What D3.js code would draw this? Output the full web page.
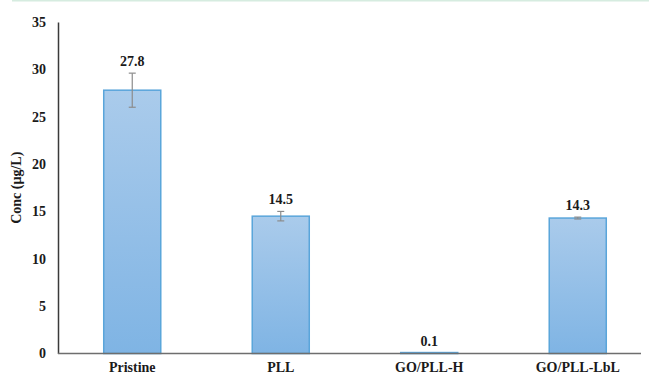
<!DOCTYPE html>
<html>
<head>
<meta charset="utf-8">
<script src="https://cdn.jsdelivr.net/npm/d3@7"></script>
<style>
  html, body { margin: 0; padding: 0; background: #fff; }
  svg { display: block; }
  svg text { font-family: 'Liberation Serif', 'DejaVu Serif', 'Times New Roman', serif; font-weight: bold; fill: #1a1a1a; }
</style>
</head>
<body>
<svg id="chart" width="649" height="377"></svg>
<script>
// Measured concentrations per sample
const categories = ["Pristine", "PLL", "GO/PLL-H", "GO/PLL-LbL"];
const values = [27.8, 14.5, 0.1, 14.3];
const errors = [1.8, 0.5, 0.0, 0.1];
const yTicks = [0, 5, 10, 15, 20, 25, 30, 35];
const yTitle = "Conc (µg/L)";

const FONT = "'Liberation Serif', 'DejaVu Serif', 'Times New Roman', serif";

const svg = d3.select("#chart");
const W = 649, H = 377;
const margin = { left: 58, top: 22, bottom: 23.5 };
const plotBottom = H - margin.bottom;

// thin header rule along the top edge
svg.append("line")
  .attr("x1", 12).attr("x2", W).attr("y1", 0.75).attr("y2", 0.75)
  .attr("stroke", "#d6ece0").attr("stroke-width", 1.5);

const x = d3.scaleBand()
  .domain(categories)
  .range([margin.left, margin.left + 4 * 148.5])
  .paddingInner(0.616)
  .paddingOuter(0.308);

const y = d3.scaleLinear().domain([0, 35]).range([plotBottom, margin.top]);

const defs = svg.append("defs");
const grad = defs.append("linearGradient")
  .attr("id", "barFill").attr("x1", 0).attr("y1", 0).attr("x2", 0).attr("y2", 1);
grad.append("stop").attr("offset", "0%").attr("stop-color", "#aacbeb");
grad.append("stop").attr("offset", "100%").attr("stop-color", "#7fb4e4");

// bars
svg.append("g").selectAll("rect")
  .data(categories)
  .join("rect")
  .attr("x", d => x(d))
  .attr("width", x.bandwidth())
  .attr("y", (d, i) => y(values[i]))
  .attr("height", (d, i) => Math.max(0, y(0) - y(values[i])))
  .attr("fill", "url(#barFill)")
  .attr("stroke", "#5aa5da")
  .attr("stroke-width", 1.5);

// error bars
const eb = svg.append("g").attr("stroke", "#8c8c8c").attr("stroke-width", 1.2);
categories.forEach((c, i) => {
  if (errors[i] <= 0) return;
  const cx = x(c) + x.bandwidth() / 2;
  const y1 = y(values[i] + errors[i]), y2 = y(values[i] - errors[i]);
  eb.append("line").attr("x1", cx).attr("x2", cx).attr("y1", y1).attr("y2", y2);
  eb.append("line").attr("x1", cx - 3.5).attr("x2", cx + 3.5).attr("y1", y1).attr("y2", y1);
  eb.append("line").attr("x1", cx - 3.5).attr("x2", cx + 3.5).attr("y1", y2).attr("y2", y2);
});

// value labels
svg.append("g").selectAll("text")
  .data(categories)
  .join("text")
  .attr("x", d => x(d) + x.bandwidth() / 2)
  .attr("y", (d, i) => y(values[i] + errors[i]) - 7)
  .attr("text-anchor", "middle")
  .attr("font-size", 14)
  .text((d, i) => values[i].toFixed(1));

// y axis
const yAxis = svg.append("g")
  .attr("transform", `translate(${margin.left},0)`)
  .call(d3.axisLeft(y).tickValues(yTicks).tickSize(0).tickPadding(12));
yAxis.attr("font-family", FONT).attr("font-size", 14);
yAxis.select(".domain").attr("stroke", "#3a3a3a").attr("stroke-width", 1.5);
yAxis.selectAll("text").attr("fill", "#1a1a1a");

// x axis
const xAxis = svg.append("g")
  .attr("transform", `translate(0,${plotBottom})`)
  .call(d3.axisBottom(x).tickSize(0).tickPadding(9));
xAxis.attr("font-family", FONT).attr("font-size", 14);
xAxis.select(".domain").attr("stroke", "#6e6e6e").attr("stroke-width", 1.5)
  .attr("d", `M${margin.left},0H${W - 8}`);
xAxis.selectAll("text").attr("fill", "#1a1a1a");

// y axis title
svg.append("text")
  .attr("transform", `translate(21,${(margin.top + plotBottom) / 2}) rotate(-90)`)
  .attr("text-anchor", "middle")
  .attr("font-size", 14)
  .text(yTitle);
</script>
</body>
</html>
